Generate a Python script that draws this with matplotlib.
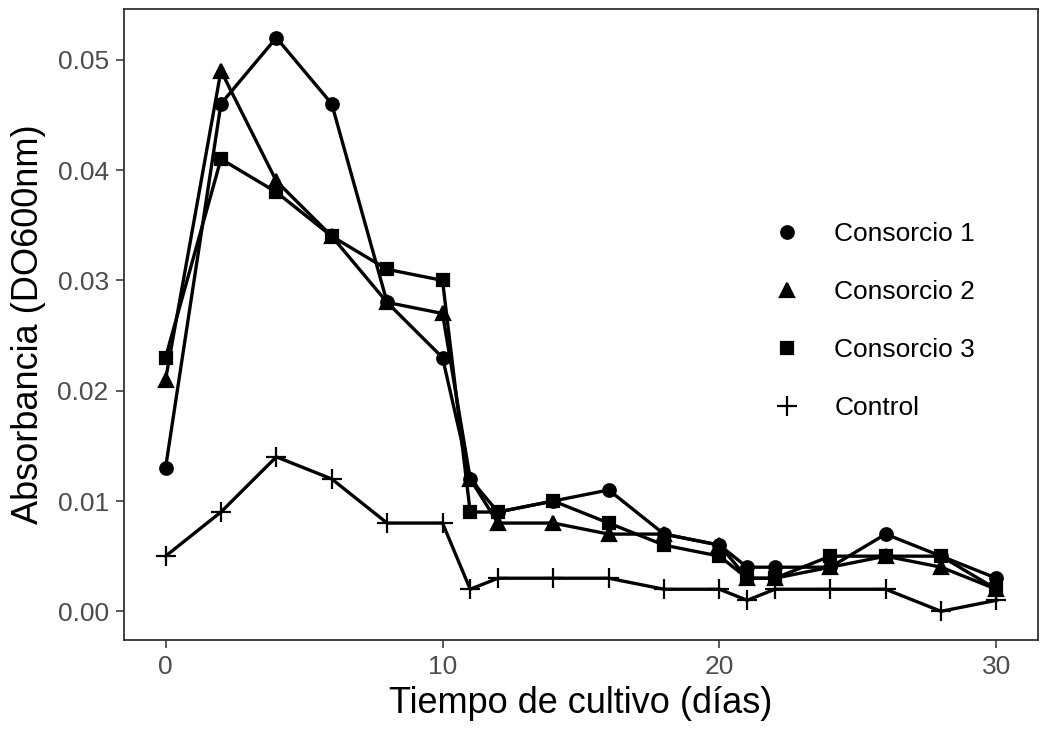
import matplotlib
matplotlib.use('Agg')
import matplotlib.pyplot as plt

plt.rcParams['font.family'] = ['Liberation Sans', 'DejaVu Sans']

# tiempo de cultivo (dias)
dias = [0, 2, 4, 6, 8, 10, 11, 12, 14, 16, 18, 20, 21, 22, 24, 26, 28, 30]

consorcio1 = [0.013, 0.046, 0.052, 0.046, 0.028, 0.023, 0.012, 0.009, 0.010,
              0.011, 0.007, 0.006, 0.004, 0.004, 0.004, 0.007, 0.005, 0.003]
consorcio2 = [0.021, 0.049, 0.039, 0.034, 0.028, 0.027, 0.012, 0.008, 0.008,
              0.007, 0.007, 0.006, 0.003, 0.003, 0.004, 0.005, 0.004, 0.002]
consorcio3 = [0.023, 0.041, 0.038, 0.034, 0.031, 0.030, 0.009, 0.009, 0.010,
              0.008, 0.006, 0.005, 0.003, 0.003, 0.005, 0.005, 0.005, 0.002]
control = [0.005, 0.009, 0.014, 0.012, 0.008, 0.008, 0.002, 0.003, 0.003,
           0.003, 0.002, 0.002, 0.001, 0.002, 0.002, 0.002, 0.000, 0.001]

series = [('Consorcio 1', consorcio1, 'o', 9),
          ('Consorcio 2', consorcio2, '^', 10),
          ('Consorcio 3', consorcio3, 's', 8.5),
          ('Control', control, '+', 15)]

fig = plt.figure(figsize=(10.4, 7.29), dpi=100)
ax = fig.add_axes([124 / 1040, 1 - 640 / 729, (1038 - 124) / 1040, (640 - 9) / 729])

handles = []
for name, vals, mk, ms in series:
    ax.plot(dias, vals, color='black', lw=2.4, zorder=2)
    ax.plot(dias, vals, ls='none', marker=mk, ms=ms, color='black',
            mew=1.6, zorder=3)
    h, = ax.plot([], [], ls='none', marker=mk, ms=ms, color='black', mew=1.6)
    handles.append(h)

ax.set_xlim(-1.5, 31.5)
ax.set_ylim(-0.0026, 0.0546)
ax.set_xticks([0, 10, 20, 30])
ax.set_yticks([0, 0.01, 0.02, 0.03, 0.04, 0.05])
ax.set_yticklabels(['0.00', '0.01', '0.02', '0.03', '0.04', '0.05'])
ax.tick_params(labelsize=19, colors='#4D4D4D', length=6, width=1.3, pad=5)
for sp in ax.spines.values():
    sp.set_color('#333333')
    sp.set_linewidth(1.3)

ax.set_xlabel('Tiempo de cultivo (días)', fontsize=26, labelpad=5)
ax.set_ylabel('Absorbancia (DO600nm)', fontsize=26, labelpad=8)

ax.legend(handles, [s[0] for s in series], frameon=False, fontsize=19,
          loc='center left', bbox_to_anchor=(742 / 1040, 1 - 321 / 729),
          bbox_transform=fig.transFigure, labelspacing=1.29,
          handletextpad=1.0, handlelength=1.6)

fig.savefig('out.png', dpi=100)
